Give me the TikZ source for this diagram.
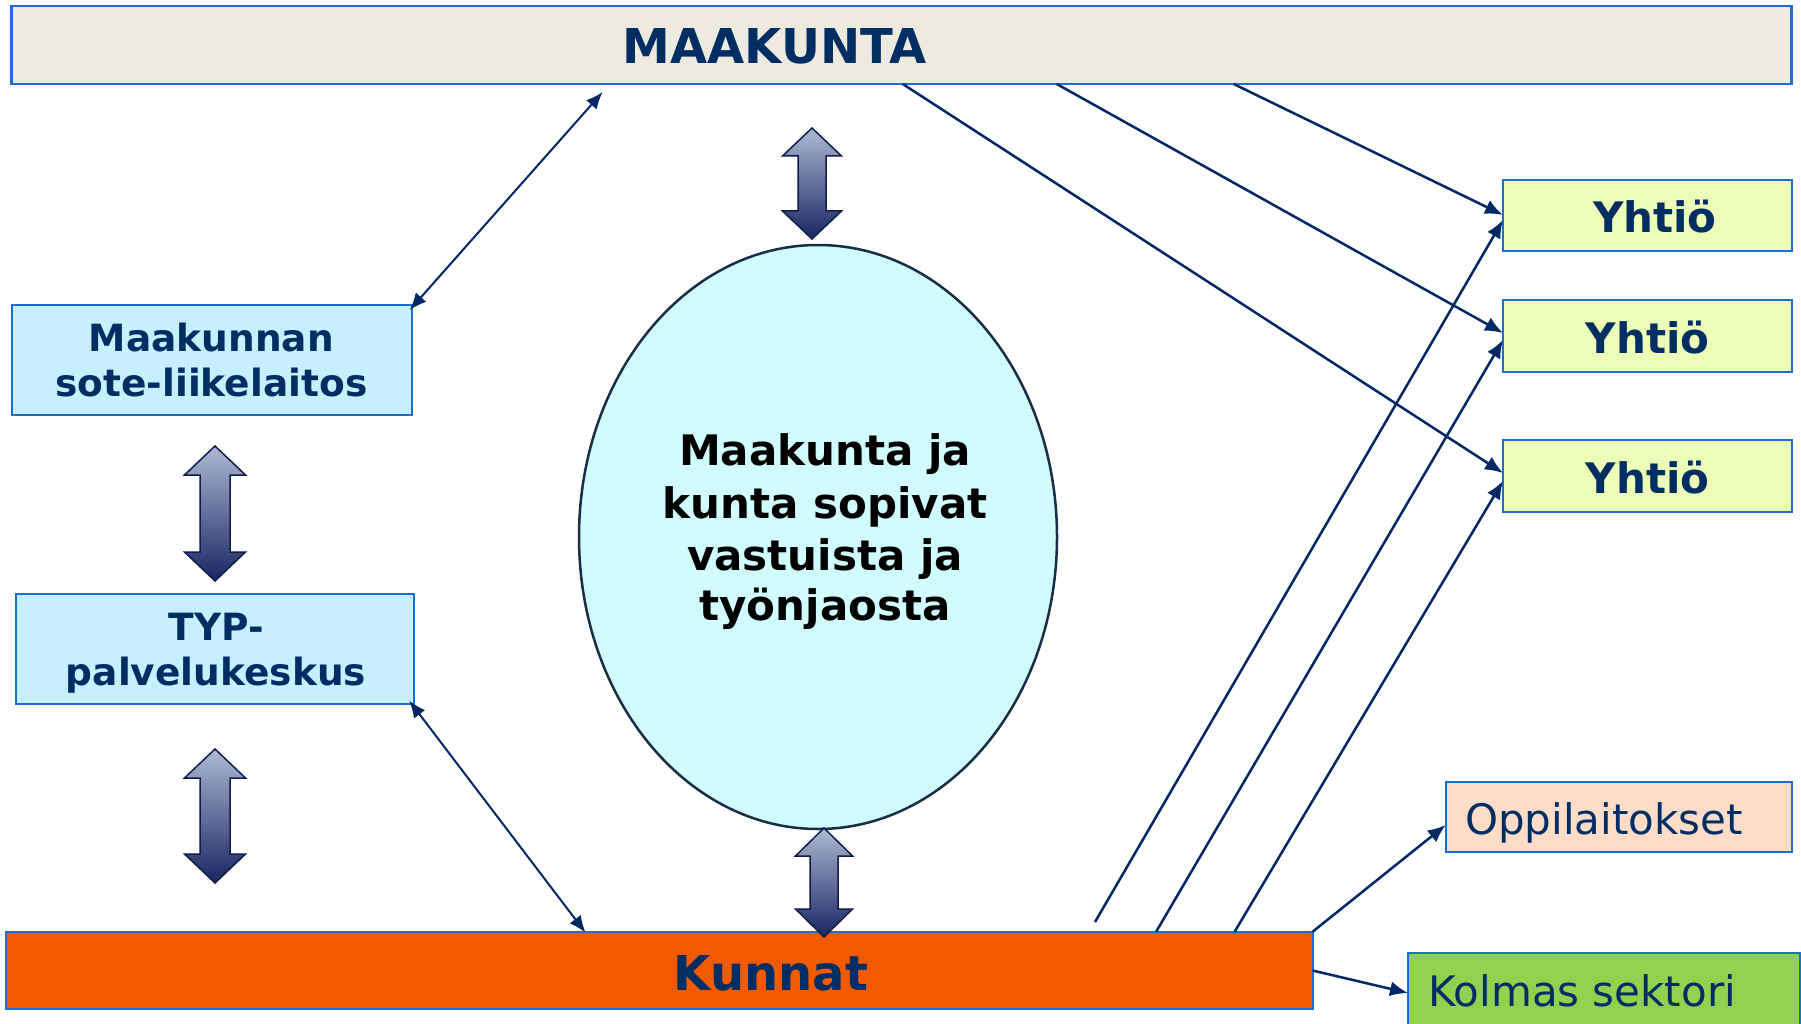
\documentclass[tikz,border=0pt]{standalone}
\usepackage{fontspec}
\setmainfont{DejaVu Sans}
\usetikzlibrary{shapes.geometric,arrows.meta,calc}
\definecolor{navy}{RGB}{0,45,98}
\definecolor{boxblue}{RGB}{30,110,210}
\definecolor{arr}{RGB}{0,40,100}
\definecolor{maakfill}{RGB}{237,234,224}
\definecolor{cyanbox}{RGB}{198,240,255}
\definecolor{yhtfill}{RGB}{235,253,182}
\definecolor{oppfill}{RGB}{254,220,200}
\definecolor{kolfill}{RGB}{146,208,80}
\definecolor{kunfill}{RGB}{242,90,0}
\definecolor{ellin}{RGB}{208,252,253}
\definecolor{ellout}{RGB}{170,222,232}
\definecolor{elldraw}{RGB}{25,45,70}
\definecolor{fattop}{RGB}{176,184,212}
\definecolor{fatbot}{RGB}{24,38,98}
\definecolor{fatline}{RGB}{15,30,75}
\pgfdeclareradialshading{ellsh}{\pgfpoint{0bp}{0bp}}{color(0bp)=(ellin); color(41bp)=(ellin); color(50bp)=(ellout)}
\newcommand\fatarr[6]{%
  \path[fatstyle] (#1,#2) -- (#1+#4,#2+#6) -- (#1+#5,#2+#6) -- (#1+#5,#3-#6) -- (#1+#4,#3-#6)
    -- (#1,#3) -- (#1-#4,#3-#6) -- (#1-#5,#3-#6) -- (#1-#5,#2+#6) -- (#1-#4,#2+#6) -- cycle;}
\tikzset{
  box/.style={rectangle, draw=boxblue, line width=2pt, inner sep=0pt, outer sep=0pt},
  thinarr/.style={draw=arr, line width=2.5pt, -{Latex[length=18pt,width=15pt]}},
  botharr/.style={draw=arr, line width=2pt, {Latex[length=17pt,width=14pt]}-{Latex[length=17pt,width=14pt]}},
  fatstyle/.style={top color=fattop, bottom color=fatbot, draw=fatline, line width=1.5pt, line join=miter},
  ttl/.style={font=\bfseries\fontsize{48}{52}\selectfont, text=navy, anchor=base, inner sep=0pt},
  sub/.style={font=\bfseries\fontsize{37.5}{40}\selectfont, text=navy, anchor=base, inner sep=0pt},
  elltxt/.style={font=\bfseries\fontsize{42}{45}\selectfont, text=black, anchor=base, inner sep=0pt},
  yht/.style={font=\bfseries\fontsize{42}{46}\selectfont, text=navy, anchor=base, inner sep=0pt},
  plain/.style={font=\fontsize{42}{46}\selectfont, text=navy, anchor=base west, inner sep=0pt},
}
\begin{document}
\begin{tikzpicture}[x=1pt,y=-1pt]
\useasboundingbox (0,0) rectangle (1801,1024);
\fill[white] (0,0) rectangle (1801,1024);
% boxes
\node[box, fill=maakfill, line width=2.5pt, minimum width=1780pt, minimum height=78pt] (maak) at (901.7,45) {};
\node[box, fill=cyanbox, minimum width=400pt, minimum height=110pt] (soteb) at (211.7,360) {};
\node[box, fill=cyanbox, minimum width=398pt, minimum height=110pt] (typ) at (215.2,649.2) {};
\node[box, fill=kunfill, minimum width=1307pt, minimum height=77.5pt] (kunnat) at (659.1,970.5) {};
\node[box, fill=yhtfill, minimum width=289pt, minimum height=71pt] (y1) at (1647.5,215.5) {};
\node[box, fill=yhtfill, minimum width=289pt, minimum height=72pt] (y2) at (1647.5,336) {};
\node[box, fill=yhtfill, minimum width=289pt, minimum height=72pt] (y3) at (1647.5,476) {};
\node[box, fill=oppfill, minimum width=346pt, minimum height=70.6pt] (opp) at (1618.7,817) {};
\node[box, fill=kolfill, minimum width=392pt, minimum height=79pt] (kol) at (1604,992.5) {};
% ellipse
\node[ellipse, draw=elldraw, line width=2.5pt, shade, shading=ellsh, minimum width=478pt, minimum height=584pt, inner sep=0pt] (sop) at (818,537) {};
% fat double arrows
\fatarr{215}{446}{581}{30.5}{15}{29}
\fatarr{215}{749}{883}{30.5}{15}{29}
\fatarr{812}{128}{239}{29.5}{14}{28}
\fatarr{824}{828}{937}{28.5}{14}{28}
% thin connectors
\draw[botharr] ($(soteb.north east)+(-2,5)$) -- ($(maak.south west)+(591,8)$);
\draw[botharr] ($(typ.south east)+(-5,-3.5)$) -- ($(kunnat.north west)+(580,1)$);
\draw[thinarr] ($(maak.south west)+(1222,0)$) -- ($(y1.west)+(0,-0.5)$);
\draw[thinarr] ($(maak.south west)+(1045,0)$) -- ($(y2.west)+(0,-3)$);
\draw[thinarr] ($(maak.south west)+(891,0)$) -- ($(y3.west)+(0,-3)$);
\coordinate (kfree) at (1095,922);
\draw[thinarr] (kfree) -- ($(y1.west)+(0,4.5)$);
\draw[thinarr] ($(kunnat.north west)+(1150.5,0)$) -- ($(y2.west)+(0,4)$);
\draw[thinarr] ($(kunnat.north west)+(1229,0)$) -- ($(y3.west)+(0,5)$);
\draw[thinarr] (kunnat.north east) -- ($(opp.west)+(0,8)$);
\draw[thinarr] (kunnat.east) -- ($(kol.west)+(0,0.5)$);
% texts
\node[ttl] (maaktxt) at (774.5,64) {MAAKUNTA};
\node[ttl] (kuntxt) at (771,990) {Kunnat};
\node[sub] (sote1) at (211.3,351.7) {Maakunnan};
\node[sub] (sote2) at (211.3,396.7) {sote-liikelaitos};
\node[sub] (typ1) at (216,640) {TYP-};
\node[sub] (typ2) at (216,685) {palvelukeskus};
\node[elltxt] (e1) at (825,465) {Maakunta ja};
\node[elltxt] (e2) at (825,518) {kunta sopivat};
\node[elltxt] (e3) at (825,570) {vastuista ja};
\node[elltxt] (e4) at (825,620) {työnjaosta};
\node[yht] (y1t) at (1655,232.3) {Yhtiö};
\node[yht] (y2t) at (1647.5,353.3) {Yhtiö};
\node[yht] (y3t) at (1647.5,493.3) {Yhtiö};
\node[plain] (opptxt) at (1465,834) {Oppilaitokset};
\node[plain] (koltxt) at (1428,1006.7) {Kolmas sektori};
\end{tikzpicture}
\end{document}
